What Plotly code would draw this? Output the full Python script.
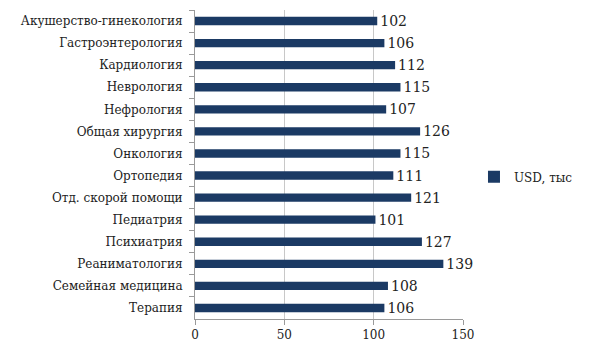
import plotly.graph_objects as go

categories = ["Акушерство-гинекология", "Гастроэнтерология", "Кардиология", "Неврология",
              "Нефрология", "Общая хирургия", "Онкология", "Ортопедия",
              "Отд. скорой помощи", "Педиатрия", "Психиатрия", "Реаниматология",
              "Семейная медицина", "Терапия"]
values = [102, 106, 112, 115, 107, 126, 115, 111, 121, 101, 127, 139, 108, 106]
series_name = "USD, тыс"
x_ticks = [0, 50, 100, 150]

FONT = "DejaVu Serif"

fig = go.Figure(go.Bar(
    y=categories, x=values, orientation="h", name=series_name,
    marker=dict(color="#1b3a64", line=dict(width=0)),
    text=[str(v) for v in values], textposition="outside",
    textfont=dict(family=FONT, size=14, color="#222"),
    constraintext="none", hoverinfo="skip",
    cliponaxis=False, width=0.38, showlegend=True,
))

fig.update_layout(
    width=600, height=363,
    margin=dict(l=195, r=137, t=10, b=44, autoexpand=False),
    paper_bgcolor="white", plot_bgcolor="white",
    hovermode=False,
    font=dict(family=FONT, size=12, color="#222"),
    legend=dict(x=1.041, y=0.46, xanchor="left", yanchor="middle", itemwidth=30,
                font=dict(family=FONT, size=12, color="#222")),
    xaxis=dict(range=[0, 150], tickvals=x_ticks, showgrid=True, gridcolor="#c8c8c8",
               gridwidth=1, zeroline=False, showline=True, linecolor="#9a9a9a",
               ticks="outside", ticklen=5, tickcolor="#9a9a9a", automargin=False,
               tickfont=dict(family=FONT, size=12, color="#222")),
    yaxis=dict(autorange="reversed", showline=True, linecolor="#9a9a9a",
               ticks="outside", ticklen=5, tickcolor="#9a9a9a", tickson="boundaries",
               showgrid=False, ticklabelstandoff=9, automargin=False,
               tickfont=dict(family=FONT, size=12, color="#222")),
)

fig.write_html("out.html", config={"displayModeBar": False, "staticPlot": True},
               post_script="document.body.style.margin='0';")
